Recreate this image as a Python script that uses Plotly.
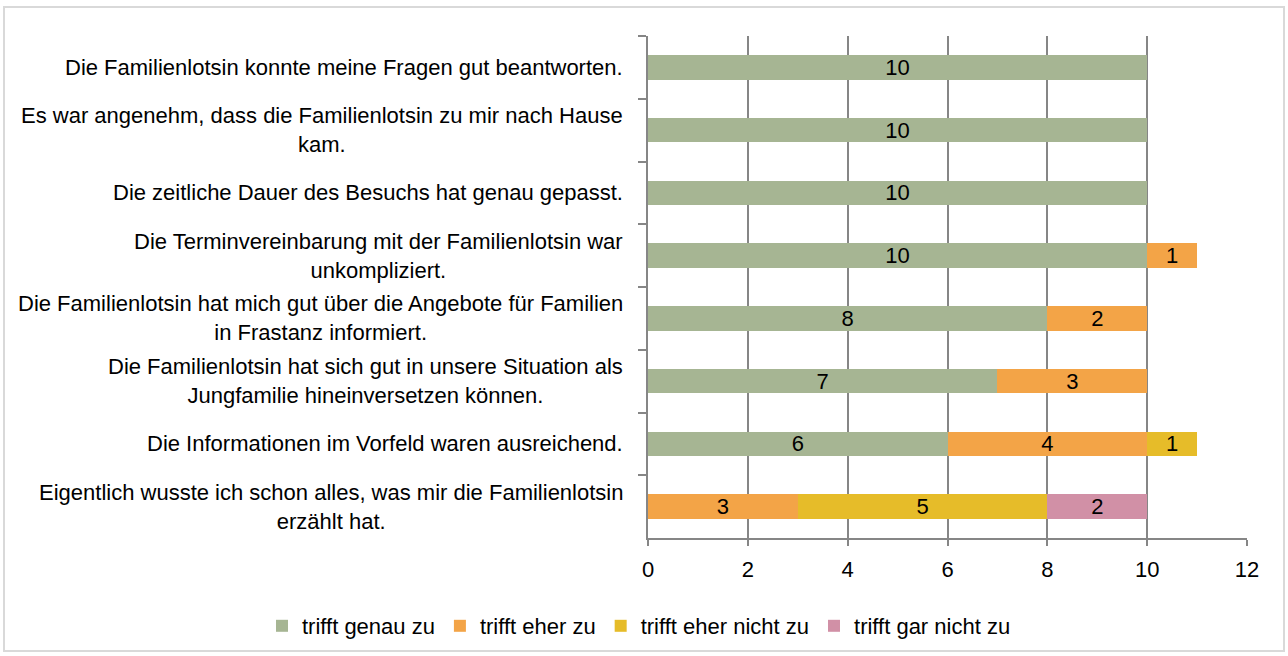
import plotly.graph_objects as go

aussagen = [
    'Die Familienlotsin konnte meine Fragen gut beantworten.',
    'Es war angenehm, dass die Familienlotsin zu mir nach Hause<br>kam.',
    'Die zeitliche Dauer des Besuchs hat genau gepasst.',
    'Die Terminvereinbarung mit der Familienlotsin war<br>unkompliziert.',
    'Die Familienlotsin hat mich gut über die Angebote für Familien<br>in Frastanz informiert.',
    'Die Familienlotsin hat sich gut in unsere Situation als<br>Jungfamilie hineinversetzen können.',
    'Die Informationen im Vorfeld waren ausreichend.',
    'Eigentlich wusste ich schon alles, was mir die Familienlotsin<br>erzählt hat.',
]

genau_zu = [10, 10, 10, 10, 8, 7, 6, None]
eher_zu = [None, None, None, 1, 2, 3, 4, 3]
eher_nicht_zu = [None, None, None, None, None, None, 1, 5]
gar_nicht_zu = [None, None, None, None, None, None, None, 2]

serien = [
    ('trifft genau zu', genau_zu, '#A6B593'),
    ('trifft eher zu', eher_zu, '#F3A447'),
    ('trifft eher nicht zu', eher_nicht_zu, '#E6BC29'),
    ('trifft gar nicht zu', gar_nicht_zu, '#D190A6'),
]

schrift = 'Liberation Sans, Arial, sans-serif'
groesse = 22

fig = go.Figure()
for name, werte, farbe in serien:
    fig.add_trace(go.Bar(
        y=aussagen,
        x=werte,
        name=name,
        orientation='h',
        marker=dict(color=farbe, line=dict(width=0)),
        text=werte,
        textposition='inside',
        insidetextanchor='middle',
        textfont=dict(color='black', size=groesse, family=schrift),
        textangle=0,
    ))

# -- Beschriftungen der Aussagen als Annotationen (zentriert, wie im Original)
for aussage in aussagen:
    fig.add_annotation(
        x=-23 / 599, xref='paper', xanchor='right',
        y=aussage, yref='y', yanchor='middle',
        text=aussage, align='center', showarrow=False,
        font=dict(size=groesse, family=schrift, color='black'),
    )

fig.update_layout(
    barmode='stack',
    bargap=0.61,
    width=1288,
    height=656,
    paper_bgcolor='white',
    plot_bgcolor='white',
    font=dict(family=schrift, size=groesse, color='black'),
    margin=dict(l=648, r=41, t=36, b=118, autoexpand=False),
    uniformtext=dict(minsize=groesse, mode='show'),
    legend=dict(
        orientation='h',
        x=(262 - 648) / 599, xanchor='left',
        y=(538 - 626) / 502, yanchor='middle',
        font=dict(size=groesse),
        traceorder='normal',
        itemwidth=30,
        entrywidth=0,
    ),
    shapes=[dict(
        type='rect', xref='paper', yref='paper',
        x0=(4 - 648) / 599, x1=(1284 - 648) / 599,
        y0=(538 - 651) / 502, y1=(538 - 7) / 502,
        line=dict(color='#D9D9D9', width=2),
    )],
)

fig.update_xaxes(
    range=[0, 12],
    dtick=2,
    showgrid=True,
    gridcolor='#868686',
    gridwidth=2,
    showline=True,
    linecolor='#868686',
    linewidth=2,
    ticks='outside',
    ticklen=6,
    tickcolor='#868686',
    tickwidth=2,
    zeroline=False,
    ticklabelstandoff=5,
    tickfont=dict(size=groesse),
)

fig.update_yaxes(
    autorange='reversed',
    showline=True,
    linecolor='#868686',
    linewidth=2,
    ticks='outside',
    tickson='boundaries',
    ticklen=8,
    tickcolor='#868686',
    tickwidth=2,
    showgrid=False,
    showticklabels=False,
)

fig.write_html(
    'out.html',
    config={'displayModeBar': False},
    post_script="document.body.style.margin='0';",
)
